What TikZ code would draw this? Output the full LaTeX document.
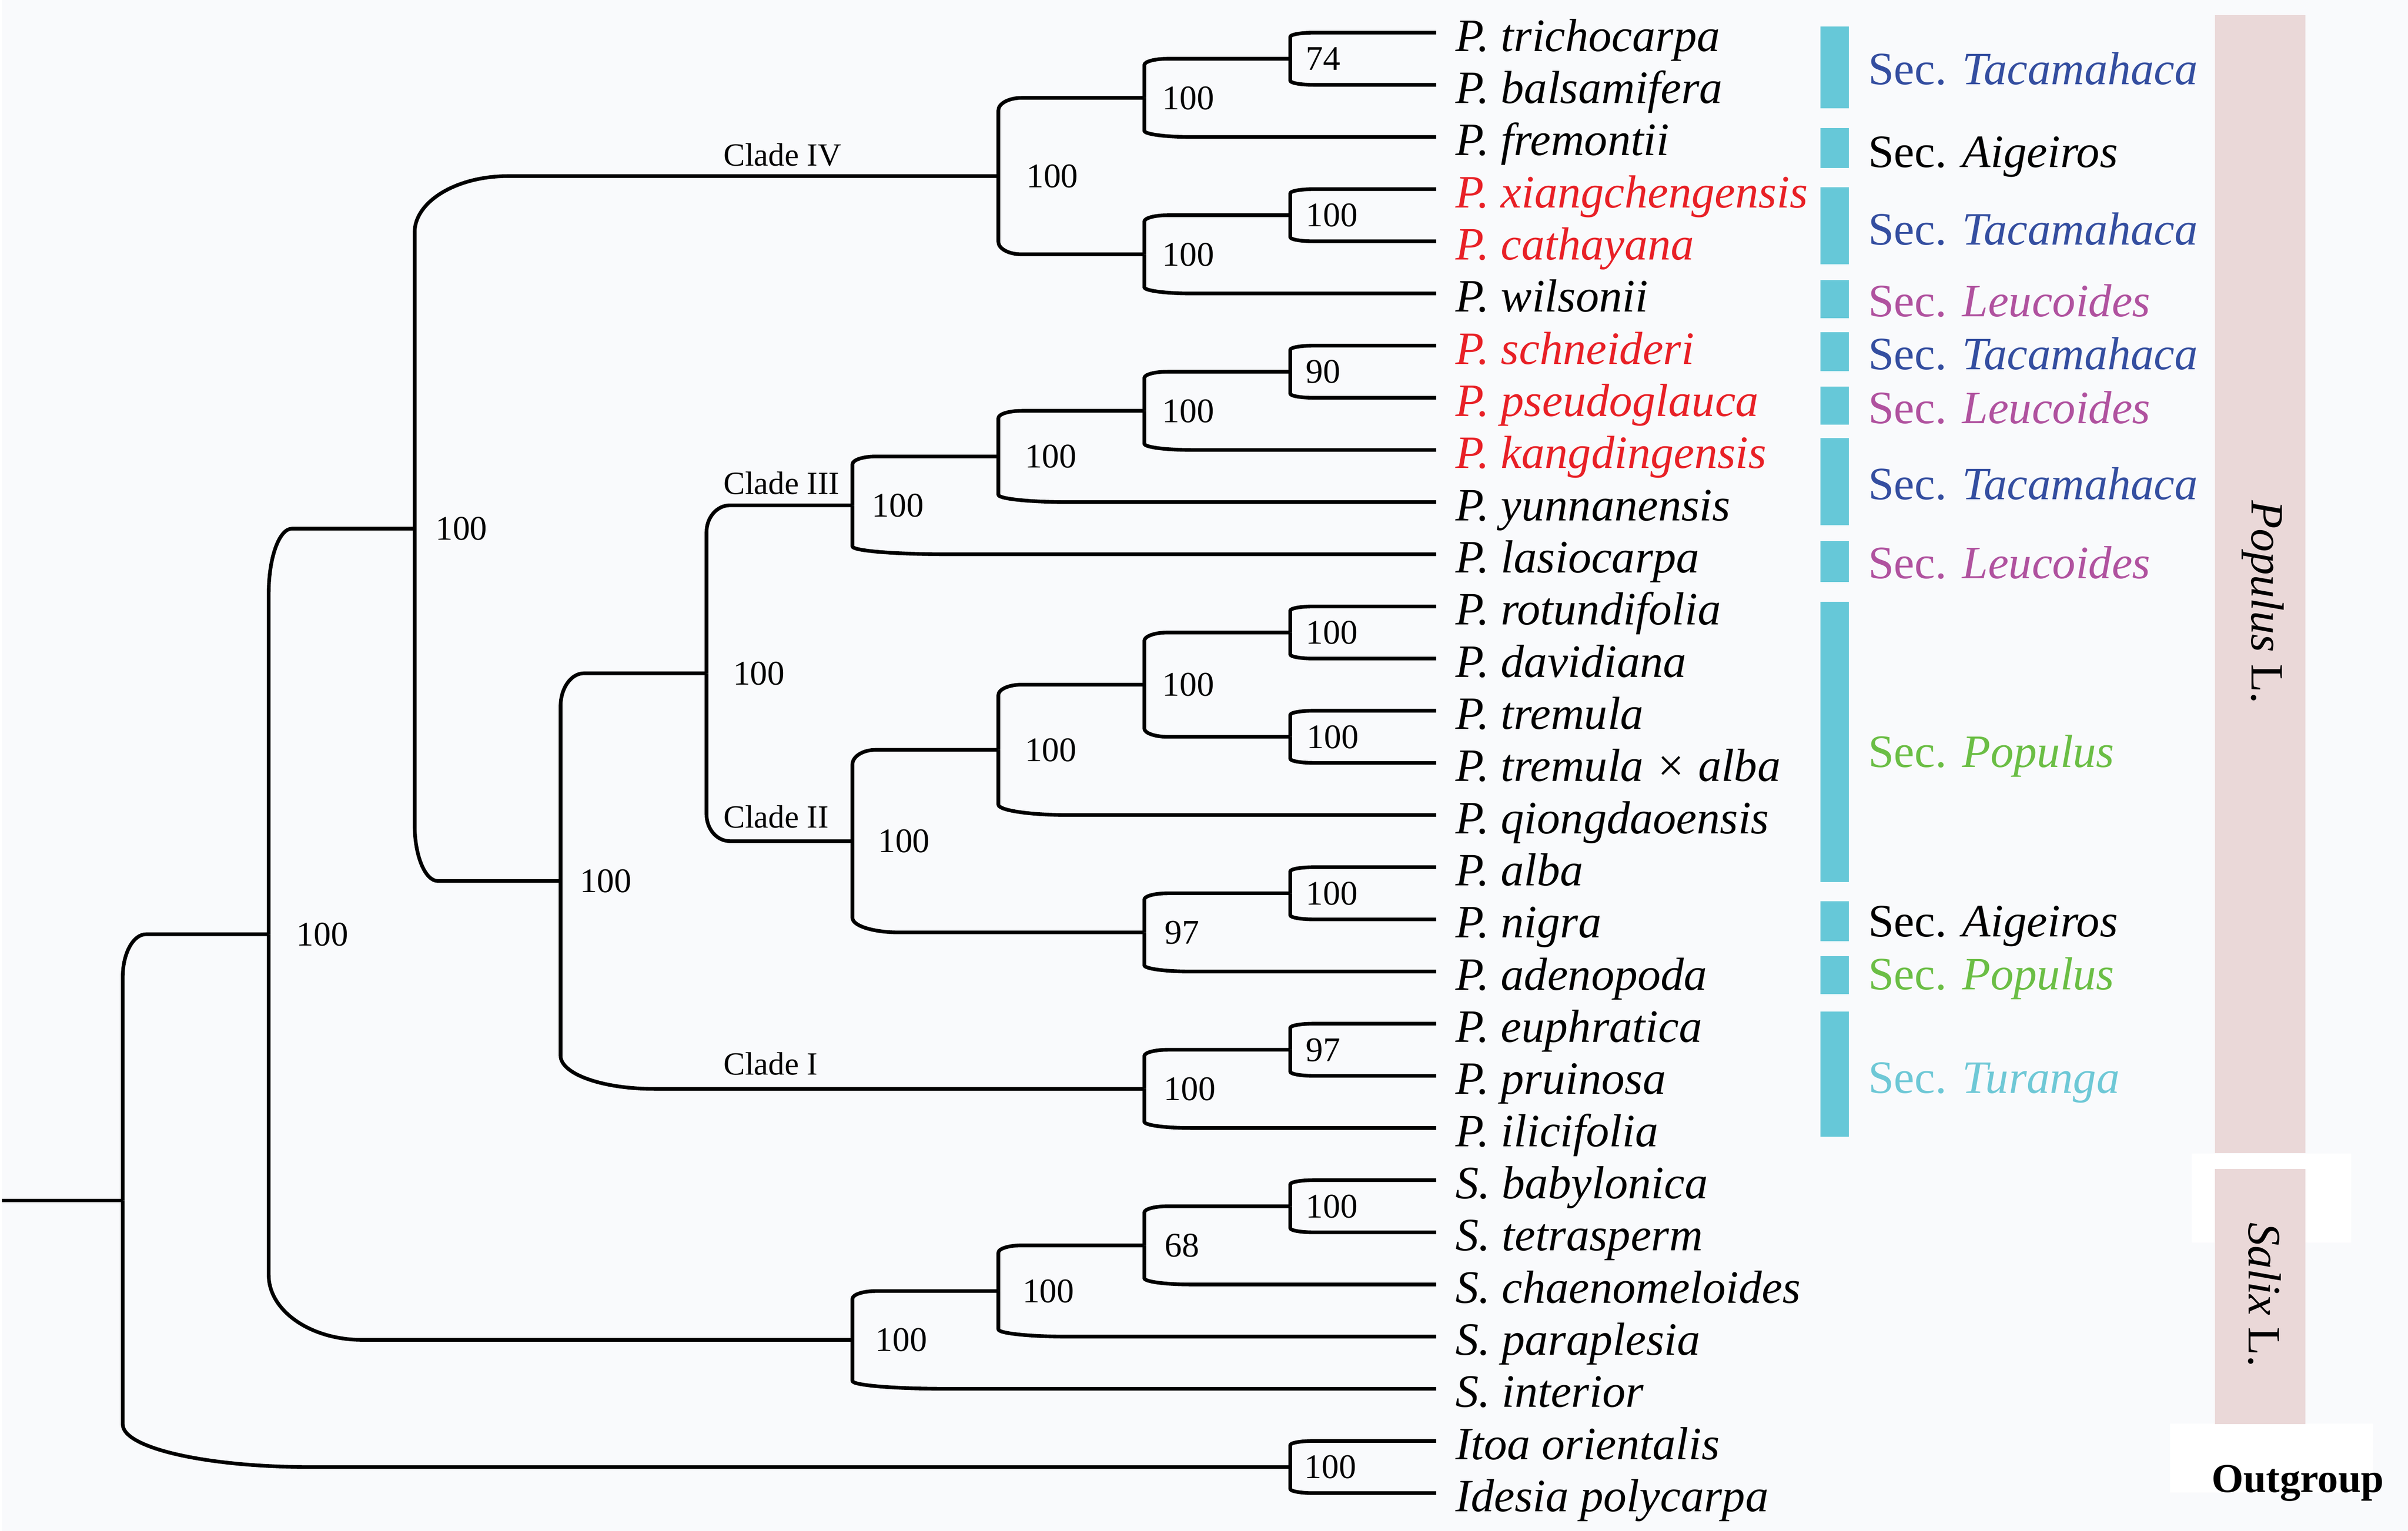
\documentclass[tikz,border=0pt]{standalone}
\usepackage{fontspec}
\setmainfont{Liberation Serif}
\usetikzlibrary{calc}

\definecolor{bgcol}{RGB}{249,250,252}
\definecolor{barcyan}{RGB}{102,200,216}
\definecolor{taxred}{RGB}{232,32,38}
\definecolor{tacablue}{RGB}{52,78,160}
\definecolor{leucpink}{RGB}{176,82,159}
\definecolor{popgreen}{RGB}{107,190,69}
\definecolor{turcyan}{RGB}{110,200,214}
\definecolor{genpink}{RGB}{234,216,216}

\newcommand{\taxsize}{\fontsize{21.5pt}{24pt}\selectfont}
\newcommand{\bootsize}{\fontsize{16pt}{18pt}\selectfont}
\newcommand{\cladesize}{\fontsize{15pt}{17pt}\selectfont}

\begin{document}
\begin{tikzpicture}[x=0.025cm, y=-0.025cm]
    \tikzstyle{branch}=[line width=1.7pt, line join=round];
    \tikzstyle{elbow}=[to path={let \p1=(\tikztostart), \p2=(\tikztotarget) in
        -- (\x1,{\y2-0.16*(\y2-\y1)})
        .. controls (\x1,{\y2-0.0717*(\y2-\y1)}) and ({\x1+0.0717*(\x2-\x1)},\y2) ..
        ({\x1+0.16*(\x2-\x1)},\y2) -- (\tikztotarget)}];
    \tikzstyle{taxon}=[anchor=west, inner sep=0pt, text height=14.2pt, text depth=0pt, font=\taxsize\itshape];
    \tikzstyle{boot}=[anchor=west, inner sep=0pt, text height=10.6pt, text depth=0pt, font=\bootsize];
    \tikzstyle{cladename}=[anchor=base west, inner sep=0pt, font=\cladesize];
    \tikzstyle{section}=[anchor=west, inner sep=0pt, text height=14.2pt, text depth=0pt, font=\taxsize];
    \tikzstyle{genus}=[rotate=-90, inner sep=0pt, font=\taxsize];

    % background and genus bars
    \fill[bgcol] (0,0) rectangle (1568,998);
    \fill[white] (1427,752) rectangle (1531,810);
    \fill[white] (1413,928) rectangle (1545,973);
    \fill[genpink] (1442,9.6) rectangle (1501,751.6);
    \fill[genpink] (1442,762) rectangle (1501,928.3);

    % tips
    \foreach \tip/\name/\tcol [count=\i from 0] in {
        tric/P. trichocarpa/black, bals/P. balsamifera/black, frem/P. fremontii/black,
        xian/P. xiangchengensis/taxred, cath/P. cathayana/taxred, wils/P. wilsonii/black,
        schn/P. schneideri/taxred, pseu/P. pseudoglauca/taxred, kang/P. kangdingensis/taxred,
        yunn/P. yunnanensis/black, lasi/P. lasiocarpa/black, rotu/P. rotundifolia/black,
        davi/P. davidiana/black, trem/P. tremula/black, trxa/P. tremula × alba/black,
        qion/P. qiongdaoensis/black, alba/P. alba/black, nigr/P. nigra/black,
        aden/P. adenopoda/black, euph/P. euphratica/black, prui/P. pruinosa/black,
        ilic/P. ilicifolia/black, baby/S. babylonica/black, tetr/S. tetrasperm/black,
        chae/S. chaenomeloides/black, para/S. paraplesia/black, inte/S. interior/black,
        itoa/Itoa orientalis/black, ides/Idesia polycarpa/black}
    {
        \coordinate (\tip) at (934.7,{21.3+34*\i});
        \node[taxon, text=\tcol] (\tip-l) at (947,{23.3+34*\i}) {\name};
    }

    % internal nodes
    \coordinate (tri) at (839.6,38.3);
    \coordinate (trifre) at (744.5,63.8);
    \coordinate (xia) at (839.6,140.3);
    \coordinate (xiawil) at (744.5,165.8);
    \coordinate (cladeIV) at (649.4,114.8);
    \coordinate (sch) at (839.6,242.3);
    \coordinate (schkan) at (744.5,267.8);
    \coordinate (schyun) at (649.4,297.55);
    \coordinate (cladeIII) at (554.3,329.4);
    \coordinate (rot) at (839.6,412.3);
    \coordinate (tre) at (839.6,480.3);
    \coordinate (rottre) at (744.5,446.3);
    \coordinate (rotqio) at (649.4,488.8);
    \coordinate (alb) at (839.6,582.3);
    \coordinate (albade) at (744.5,607.8);
    \coordinate (cladeII) at (554.3,548.3);
    \coordinate (cladeIIIII) at (459.2,438.9);
    \coordinate (eup) at (839.6,684.3);
    \coordinate (cladeI) at (744.5,709.8);
    \coordinate (sect) at (364.1,574.3);
    \coordinate (populus) at (269,344.6);
    \coordinate (bab) at (839.6,786.3);
    \coordinate (babcha) at (744.5,811.8);
    \coordinate (babpar) at (649.4,841.6);
    \coordinate (salix) at (554.3,873.4);
    \coordinate (salicac) at (173.9,609);
    \coordinate (outg) at (839.6,956.3);
    \coordinate (root) at (78.8,782.6);
    \coordinate (base) at (0,782.6);

    % branches
    \draw[branch] (base) -- (root);
    \foreach \a/\b in {tri/tric, tri/bals, trifre/tri, trifre/frem, xia/xian, xia/cath,
        xiawil/xia, xiawil/wils, cladeIV/trifre, cladeIV/xiawil, sch/schn, sch/pseu,
        schkan/sch, schkan/kang, schyun/schkan, schyun/yunn, cladeIII/schyun, cladeIII/lasi,
        rot/rotu, rot/davi, tre/trem, tre/trxa, rottre/rot, rottre/tre, rotqio/rottre,
        rotqio/qion, alb/alba, alb/nigr, albade/alb, albade/aden, cladeII/rotqio,
        cladeII/albade, cladeIIIII/cladeIII, cladeIIIII/cladeII, eup/euph, eup/prui,
        cladeI/eup, cladeI/ilic, sect/cladeIIIII, sect/cladeI, populus/cladeIV,
        populus/sect, bab/baby, bab/tetr, babcha/bab, babcha/chae, babpar/babcha,
        babpar/para, salix/babpar, salix/inte, salicac/populus, salicac/salix,
        outg/itoa, outg/ides, root/salicac, root/outg}
        \draw[branch] (\a) to[elbow] (\b);

    % support values
    \foreach \n/\v/\dx in {tri/74/10, trifre/100/11.5, xia/100/10, xiawil/100/11.5,
        cladeIV/100/18, sch/90/10, schkan/100/11.5, schyun/100/17, cladeIII/100/12.4,
        rot/100/10, tre/100/10.5, rottre/100/11.5, rotqio/100/17, alb/100/10,
        albade/97/13, cladeII/100/16.4, cladeIIIII/100/17, eup/97/10, cladeI/100/12.5,
        sect/100/12.3, populus/100/13.3, bab/100/10, babcha/68/13, babpar/100/15.4,
        salix/100/14.7, salicac/100/17.9, outg/100/9}
        \node[boot, xshift=\dx*0.025cm] (\n-b) at (\n) {\v};

    % clade names
    \node[cladename] (c4) at (470,108) {Clade IV};
    \node[cladename] (c3) at (470,322) {Clade III};
    \node[cladename] (c2) at (470,539.5) {Clade II};
    \node[cladename] (c1) at (470,700.5) {Clade I};

    % sections
    \foreach \top/\bot/\yl/\sec/\scol [count=\k] in {
        17.3/70.7/45/Tacamahaca/tacablue, 83.4/109.4/99/Aigeiros/black,
        122/172.4/149.5/Tacamahaca/tacablue, 182.7/207.4/196.5/Leucoides/leucpink,
        216.4/242/231/Tacamahaca/tacablue, 252/276.7/266/Leucoides/leucpink,
        285.7/342.4/315.5/Tacamahaca/tacablue, 352.7/379.4/367/Leucoides/leucpink,
        392.4/575/490/Populus/popgreen, 587.5/613.7/600.5/Aigeiros/black,
        623.4/648/635/Populus/popgreen, 659.3/741/702.5/Turanga/turcyan}
    {
        \fill[barcyan] (1185,\top) rectangle (1203.6,\bot);
        \node[section, text=\scol] (sec\k) at (1216,\yl) {Sec. \textit{\sec}};
    }

    % genera
    \node[genus] (pop) at (1473.5,392.5) {\textit{Populus} L.};
    \node[genus] (sal) at (1474.6,844) {\textit{Salix} L.};
    \node[anchor=west, inner sep=0pt, text height=12.6pt, text depth=0pt,
        font=\fontsize{19pt}{21pt}\selectfont\bfseries] (outgrp) at (1439.7,964) {Outgroup};
\end{tikzpicture}
\end{document}
